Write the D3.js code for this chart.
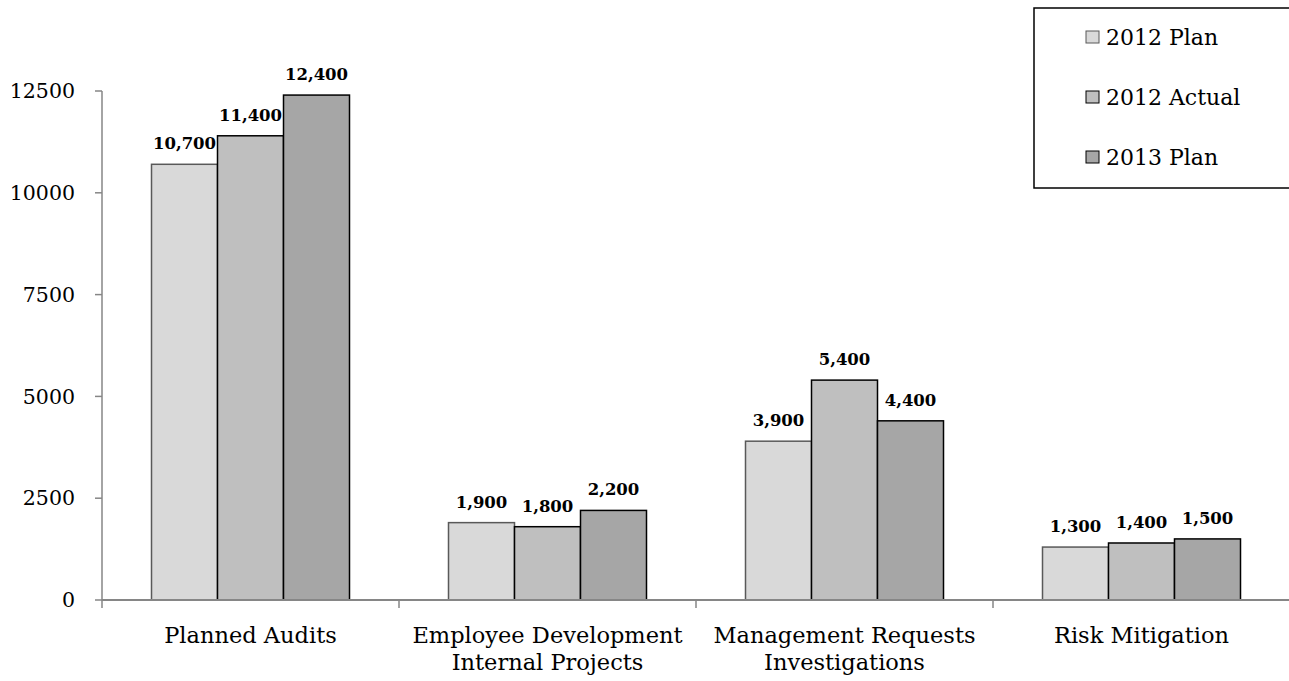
<!DOCTYPE html>
<html>
<head>
<meta charset="utf-8">
<script src="https://cdn.jsdelivr.net/npm/d3@7"></script>
<style>
  body { margin: 0; background: #fff; }
  text { font-family: "DejaVu Serif", serif; fill: #000; }
</style>
</head>
<body>
<div class="canvas"></div>
<script>
var categories = [
  ['Planned Audits'],
  ['Employee Development', 'Internal Projects'],
  ['Management Requests', 'Investigations'],
  ['Risk Mitigation']
];
var seriesNames = ['2012 Plan', '2012 Actual', '2013 Plan'];
var plan2012 = [10700, 1900, 3900, 1300];
var actual2012 = [11400, 1800, 5400, 1400];
var plan2013 = [12400, 2200, 4400, 1500];
var yTicks = [0, 2500, 5000, 7500, 10000, 12500];

var fills = ['#d9d9d9', '#bfbfbf', '#a6a6a6'];
var strokes = ['#595959', '#000', '#000'];

var pageWidth = 1289, pageHeight = 681;
var margins = {t: 91, r: -1, b: 81, l: 102};
var plotWidth = pageWidth - margins.l - margins.r,
    plotHeight = pageHeight - margins.t - margins.b;

var svg = d3.select('.canvas')
    .append('svg')
    .attr('width', pageWidth)
    .attr('height', pageHeight);

var plot = svg.append('g')
    .attr('transform', 'translate(' + margins.l + ',' + margins.t + ')');

var keys = categories.map(function(c){ return c.join(' '); });
var x0 = d3.scaleBand().domain(keys).range([0, plotWidth]);
var bw = x0.bandwidth();
var x1 = d3.scaleBand().domain(seriesNames).range([bw/6, bw*5/6]);
var y = d3.scaleLinear().domain([0, 12500]).range([plotHeight, 0]);

var allSeries = [plan2012, actual2012, plan2013];

// y axis
plot.append('line')
    .attr('x1', 0).attr('x2', 0)
    .attr('y1', 0).attr('y2', plotHeight)
    .style('stroke', '#868686').style('stroke-width', 1.5);
yTicks.forEach(function(t){
    plot.append('line')
        .attr('x1', -7).attr('x2', 0)
        .attr('y1', y(t)).attr('y2', y(t))
        .style('stroke', '#868686').style('stroke-width', 1.5);
    plot.append('text')
        .attr('x', -27).attr('y', y(t))
        .attr('dy', '0.35em')
        .attr('text-anchor', 'end')
        .style('font-size', '20.5px')
        .text(t);
});

// bars
keys.forEach(function(k, i){
    var grp = plot.append('g')
        .attr('transform', 'translate(' + x0(k) + ',0)');
    seriesNames.forEach(function(s, j){
        var v = allSeries[j][i];
        grp.append('rect')
            .attr('x', x1(s))
            .attr('y', y(v))
            .attr('width', x1.bandwidth())
            .attr('height', plotHeight - y(v))
            .style('fill', fills[j])
            .style('stroke', strokes[j])
            .style('stroke-width', 1.5);
        grp.append('text')
            .attr('x', x1(s) + x1.bandwidth()/2)
            .attr('y', y(v) - 15)
            .attr('text-anchor', 'middle')
            .style('font-size', '16.5px')
            .style('font-weight', 'bold')
            .text(d3.format(',')(v));
    });
});

// x axis
plot.append('line')
    .attr('x1', 0).attr('x2', plotWidth)
    .attr('y1', plotHeight).attr('y2', plotHeight)
    .style('stroke', '#868686').style('stroke-width', 2);
keys.forEach(function(k, i){
    plot.append('line')
        .attr('x1', x0(k)).attr('x2', x0(k))
        .attr('y1', plotHeight).attr('y2', plotHeight + 8)
        .style('stroke', '#868686').style('stroke-width', 1.5);
    var t = plot.append('text')
        .attr('text-anchor', 'middle')
        .attr('x', x0(k) + bw/2)
        .attr('y', plotHeight + 43)
        .style('font-size', '22.5px');
    categories[i].forEach(function(line, li){
        t.append('tspan')
            .attr('x', x0(k) + bw/2)
            .attr('dy', li === 0 ? 0 : 27)
            .text(line);
    });
});

// legend
var legend = svg.append('g');
legend.append('rect')
    .attr('x', 1034).attr('y', 8)
    .attr('width', 270).attr('height', 180)
    .style('fill', '#fff')
    .style('stroke', '#000').style('stroke-width', 1.5);
seriesNames.forEach(function(s, j){
    var cy = 37 + j * 60;
    legend.append('rect')
        .attr('x', 1086).attr('y', cy - 6)
        .attr('width', 13).attr('height', 12)
        .style('fill', fills[j])
        .style('stroke', strokes[j]).style('stroke-width', 1);
    legend.append('text')
        .attr('x', 1106).attr('y', cy)
        .attr('dy', '0.35em')
        .style('font-size', '22px')
        .text(s);
});
</script>
</body>
</html>
